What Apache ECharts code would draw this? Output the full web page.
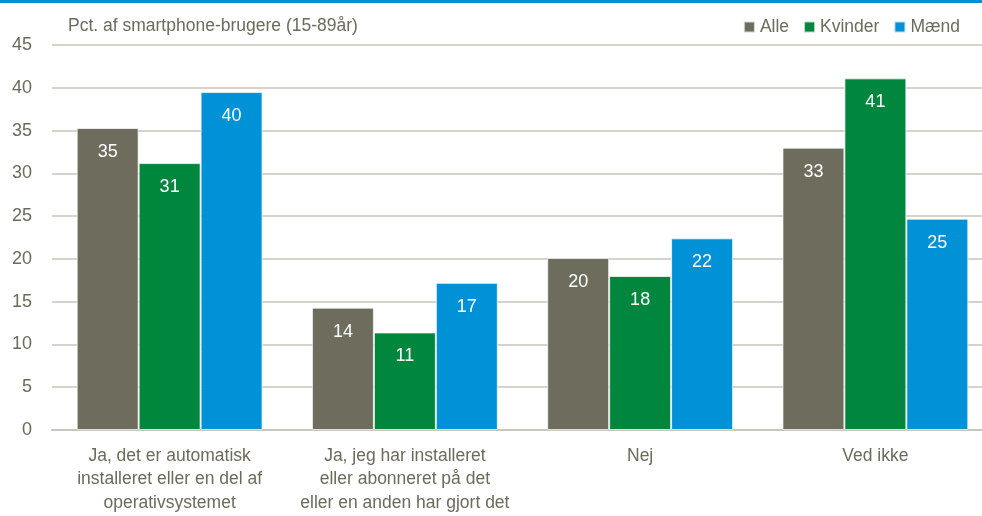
<!DOCTYPE html>
<html>
<head>
<meta charset="utf-8">
<script src="https://cdn.jsdelivr.net/npm/echarts@6/dist/echarts.min.js"></script>
<style>
  html, body { margin: 0; padding: 0; background: #fff; }
  #chart { width: 982px; height: 516px; }
</style>
</head>
<body>
<div id="chart"></div>
<script>
const categories = [
  "Ja, det er automatisk\ninstalleret eller en del af\noperativsystemet",
  "Ja, jeg har installeret\neller abonneret på det\neller en anden har gjort det",
  "Nej",
  "Ved ikke",
];
const alle = [35.3, 14.3, 20.1, 33.0];
const kvinder = [31.2, 11.4, 18.0, 41.1];
const maend = [39.5, 17.2, 22.4, 24.7];

const textColor = "#6b6b5b";
const font = "'Liberation Sans', Arial, sans-serif";

const chart = echarts.init(document.getElementById("chart"));

function barSeries(name, data, color) {
  return {
    name: name,
    type: "bar",
    data: data,
    barGap: "0%",
    barCategoryGap: "21%",
    animation: false,
    itemStyle: {
      color: color,
      borderColor: "rgba(255,255,255,0.7)",
      borderWidth: 1,
    },
    label: {
      show: true,
      position: "insideTop",
      distance: 15,
      color: "#fff",
      fontSize: 18,
      fontFamily: font,
      formatter: (p) => Math.round(p.value),
    },
  };
}

chart.setOption({
  textStyle: { fontFamily: font },
  graphic: [
    {
      type: "rect",
      left: 0,
      top: 0,
      shape: { width: 982, height: 3 },
      style: { fill: "#0091d6" },
    },
  ],
  legend: {
    top: 13,
    right: 17,
    itemWidth: 11,
    itemHeight: 11,
    itemGap: 14,
    icon: "rect",
    textStyle: { color: textColor, fontSize: 17.5, fontFamily: font },
    data: ["Alle", "Kvinder", "Mænd"],
  },
  grid: {
    left: 52,
    top: 45,
    width: 941,
    height: 385,
    containLabel: false,
    outerBoundsMode: "none",
  },
  xAxis: {
    type: "category",
    data: categories,
    axisTick: { show: false },
    axisLine: { lineStyle: { color: "#c6c6bb", width: 2 } },
    axisLabel: {
      color: textColor,
      fontSize: 17.5,
      lineHeight: 23.5,
      margin: 14,
      interval: 0,
      fontFamily: font,
    },
  },
  yAxis: {
    type: "value",
    min: 0,
    max: 45,
    interval: 5,
    name: "Pct. af smartphone-brugere (15-89år)",
    nameLocation: "end",
    nameGap: 10,
    nameTextStyle: {
      color: textColor,
      fontSize: 17.5,
      align: "left",
      padding: [0, 0, 0, 16],
      fontFamily: font,
    },
    axisLabel: {
      color: textColor,
      fontSize: 18,
      margin: 20,
      fontFamily: font,
    },
    splitLine: { lineStyle: { color: "#c6c6bb", width: 1.5 } },
    axisLine: { show: false },
    axisTick: { show: false },
  },
  series: [
    barSeries("Alle", alle, "#6e6c5c"),
    barSeries("Kvinder", kvinder, "#00873d"),
    barSeries("Mænd", maend, "#0091d6"),
  ],
});
</script>
</body>
</html>
